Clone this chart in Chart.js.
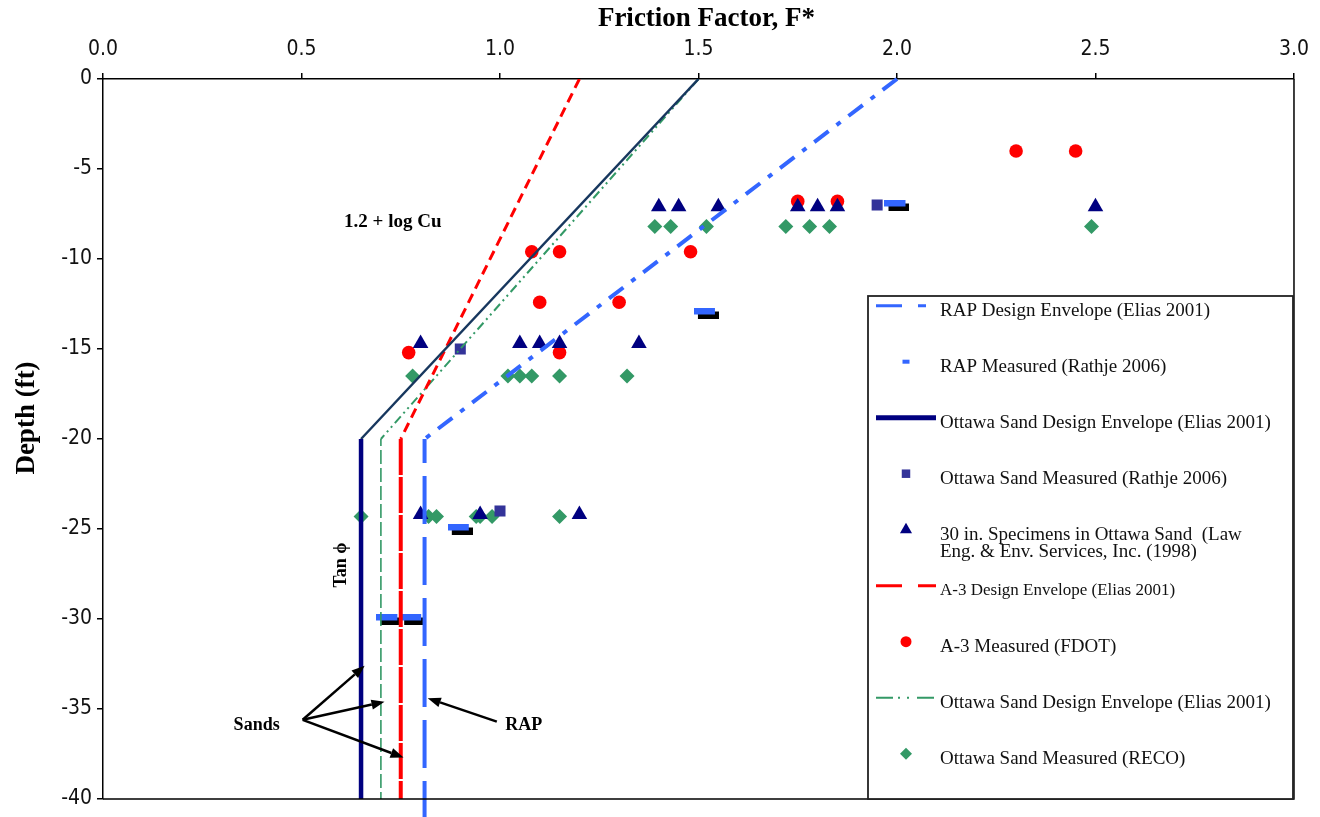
<!DOCTYPE html>
<html>
<head>
<meta charset="utf-8">
<title>Friction Factor vs Depth</title>
<script src="https://cdn.jsdelivr.net/npm/chart.js@4.4.1/dist/chart.umd.min.js"></script>
<style>
  html, body { margin: 0; padding: 0; background: #fff; }
  #wrap { width: 1320px; height: 817px; position: relative; }
</style>
</head>
<body>
<div id="wrap"><canvas id="chart" width="1320" height="817"></canvas></div>
<script>
// ---- axis ticks ----
const xTickValues = [0, 0.5, 1.0, 1.5, 2.0, 2.5, 3.0];
const yTickValues = [0, -5, -10, -15, -20, -25, -30, -35, -40];

// ---- design envelopes: friction factor F* and depth (ft) ----
const rapEnvF = [2.0, 0.81, 0.81];
const rapEnvDepth = [0, -20, -41];
const ottawaEnvF = [1.5, 0.65, 0.65];
const ottawaEnvDepth = [0, -20, -40];
const a3EnvF = [1.2, 0.75, 0.75];
const a3EnvDepth = [0, -20, -40];
const ottawaRecoEnvF = [1.5, 0.70, 0.70];
const ottawaRecoEnvDepth = [0, -20, -40];

// ---- measured values ----
const rapMeasF = [2.0, 1.52, 0.90, 0.72, 0.78];
const rapMeasDepth = [-7, -13, -25, -30, -30];

const ottawaRathjeF = [1.95, 0.90, 1.00];
const ottawaRathjeDepth = [-7, -15, -24];

const lawF = [1.40, 1.45, 1.55, 1.75, 1.80, 1.85, 2.50, 0.80, 1.05, 1.10, 1.15, 1.35, 0.80, 0.95, 1.20];
const lawDepth = [-7.1, -7.1, -7.1, -7.1, -7.1, -7.1, -7.1, -14.7, -14.7, -14.7, -14.7, -14.7, -24.2, -24.2, -24.2];

const fdotF = [2.30, 2.45, 1.75, 1.85, 1.08, 1.15, 1.48, 1.10, 1.30, 0.77, 1.15];
const fdotDepth = [-4, -4, -6.8, -6.8, -9.6, -9.6, -9.6, -12.4, -12.4, -15.2, -15.2];

const recoF = [1.39, 1.43, 1.52, 1.72, 1.78, 1.83, 2.49, 0.78, 1.02, 1.05, 1.08, 1.15, 1.32, 0.65, 0.82, 0.84, 0.94, 0.95, 0.98, 1.15];
const recoDepth = [-8.2, -8.2, -8.2, -8.2, -8.2, -8.2, -8.2, -16.5, -16.5, -16.5, -16.5, -16.5, -16.5, -24.3, -24.3, -24.3, -24.3, -24.3, -24.3, -24.3];

// ---- annotations (placed in data units) ----
const noteTexts = ['1.2 + log Cu', 'Sands', 'RAP'];
const noteF = [0.73, 0.387, 1.06];
const noteDepth = [-7.95, -35.9, -35.9];
const tanText = 'Tan \u03D5';
const tanPos = [0.60, -27];
const sandsArrowTail = [0.503, -35.6];
const sandsArrowTips = [[0.659, -32.6], [0.709, -34.6], [0.757, -37.7]];
const rapArrowTail = [0.992, -35.7];
const rapArrowTip = [0.818, -34.4];

const pts = (xs, ys) => xs.map((v, i) => ({ x: v, y: ys[i] }));

// RAP measured marker: blue dash with a dark drop shadow
const rapMarker = (() => {
  const c = document.createElement('canvas');
  c.width = 25; c.height = 11;
  const g = c.getContext('2d');
  g.fillStyle = '#000';
  g.fillRect(4, 4, 21, 7);
  g.fillStyle = '#3366FF';
  g.fillRect(0, 0, 21, 7);
  return c;
})();

const seg = (slope, vertical) => ({
  borderDash: ctx => ctx.p0DataIndex === 0 ? slope.dash : vertical.dash,
  borderWidth: ctx => ctx.p0DataIndex === 0 ? slope.width : vertical.width,
  borderColor: ctx => ctx.p0DataIndex === 0 ? slope.color : vertical.color
});

const datasets = [
  {
    label: 'RAP Design Envelope (Elias 2001)',
    data: pts(rapEnvF, rapEnvDepth),
    showLine: true, pointRadius: 0, borderColor: '#3366FF', borderWidth: 4,
    segment: seg({ dash: [18, 10, 5, 10], width: 4, color: '#3366FF' }, { dash: [24, 16, 6, 15], width: 4, color: '#3366FF' }),
    clip: false, order: 0,
    legendKind: 'line', legendDash: [26, 16, 8, 60], legendWidth: 3
  },
  {
    label: 'RAP Measured (Rathje 2006)',
    data: pts(rapMeasF, rapMeasDepth),
    showLine: false, pointStyle: rapMarker, pointRadius: 6, order: 1,
    legendKind: 'dash', color: '#3366FF'
  },
  {
    label: 'Ottawa Sand Design Envelope (Elias 2001)',
    data: pts(ottawaEnvF, ottawaEnvDepth),
    showLine: true, pointRadius: 0, borderColor: '#000080', borderWidth: 4,
    segment: seg({ dash: [], width: 2.5, color: '#17375e' }, { dash: [], width: 4.5, color: '#000080' }),
    order: 0,
    legendKind: 'line', legendDash: [], legendWidth: 5
  },
  {
    label: 'Ottawa Sand Measured (Rathje 2006)',
    data: pts(ottawaRathjeF, ottawaRathjeDepth),
    showLine: false, pointStyle: 'rect', pointRadius: 7.8, pointBorderWidth: 0,
    backgroundColor: '#333399', borderColor: '#333399', order: 1,
    legendKind: 'point', legendRadius: 6
  },
  {
    label: '30 in. Specimens in Ottawa Sand  (Law\nEng. & Env. Services, Inc. (1998)',
    data: pts(lawF, lawDepth),
    showLine: false, pointStyle: 'triangle', pointRadius: 9, pointBorderWidth: 0,
    backgroundColor: '#000080', borderColor: '#000080', order: 1,
    legendKind: 'point', legendRadius: 7
  },
  {
    label: 'A-3 Design Envelope (Elias 2001)',
    data: pts(a3EnvF, a3EnvDepth),
    showLine: true, pointRadius: 0, borderColor: '#FF0000', borderWidth: 4,
    segment: seg({ dash: [10, 6], width: 3, color: '#FF0000' }, { dash: [26, 12], width: 4, color: '#FF0000' }),
    order: 0,
    legendKind: 'line', legendDash: [26, 16], legendWidth: 3, legendFontSize: 17
  },
  {
    label: 'A-3 Measured (FDOT)',
    data: pts(fdotF, fdotDepth),
    showLine: false, pointStyle: 'circle', pointRadius: 6.8, pointBorderWidth: 0,
    backgroundColor: '#FF0000', borderColor: '#FF0000', order: 1,
    legendKind: 'point', legendRadius: 5.5
  },
  {
    label: 'Ottawa Sand Design Envelope (Elias 2001)',
    data: pts(ottawaRecoEnvF, ottawaRecoEnvDepth),
    showLine: true, pointRadius: 0, borderColor: '#339966', borderWidth: 1.8,
    segment: seg({ dash: [9, 4, 2, 4, 2, 4], width: 2, color: '#339966' }, { dash: [6, 5, 2, 5], width: 1.6, color: '#339966' }),
    order: 0,
    legendKind: 'line', legendDash: [17, 5, 2, 7, 2, 8, 17], legendWidth: 2
  },
  {
    label: 'Ottawa Sand Measured (RECO)',
    data: pts(recoF, recoDepth),
    showLine: false, pointStyle: 'rectRot', pointRadius: 7.5, pointBorderWidth: 0,
    backgroundColor: '#339966', borderColor: '#339966', order: 1,
    legendKind: 'point', legendRadius: 6
  }
];

const SERIF = '"Liberation Serif", "Times New Roman", "DejaVu Serif", serif';
const TICKFONT = '"Liberation Sans Narrow", "DejaVu Sans Condensed", "Liberation Sans", sans-serif';

function arrow(ctx, x0, y0, x1, y1) {
  const a = Math.atan2(y1 - y0, x1 - x0);
  const head = 13, half = 5;
  const bx = x1 - head * Math.cos(a), by = y1 - head * Math.sin(a);
  ctx.beginPath();
  ctx.moveTo(x0, y0);
  ctx.lineTo(bx, by);
  ctx.stroke();
  ctx.beginPath();
  ctx.moveTo(x1, y1);
  ctx.lineTo(bx + half * Math.sin(a), by - half * Math.cos(a));
  ctx.lineTo(bx - half * Math.sin(a), by + half * Math.cos(a));
  ctx.closePath();
  ctx.fill();
}

const decorations = {
  id: 'decorations',
  afterDatasetsDraw(chart) {
    const { ctx, chartArea: a, scales: { x, y } } = chart;
    ctx.save();
    // right and bottom frame lines
    ctx.strokeStyle = '#000';
    ctx.lineWidth = 1.5;
    ctx.beginPath();
    ctx.moveTo(a.right, a.top);
    ctx.lineTo(a.right, a.bottom);
    ctx.lineTo(a.left, a.bottom);
    ctx.stroke();

    // text notes
    ctx.fillStyle = '#000';
    ctx.textAlign = 'center';
    ctx.textBaseline = 'middle';
    noteTexts.forEach((t, i) => {
      ctx.font = 'bold ' + (i === 0 ? 19 : 18) + 'px ' + SERIF;
      ctx.fillText(t, x.getPixelForValue(noteF[i]), y.getPixelForValue(noteDepth[i]));
    });
    ctx.save();
    ctx.translate(x.getPixelForValue(tanPos[0]), y.getPixelForValue(tanPos[1]));
    ctx.rotate(-Math.PI / 2);
    ctx.font = 'bold 18px ' + SERIF;
    ctx.fillText(tanText, 0, 0);
    ctx.restore();

    // arrows
    ctx.strokeStyle = '#000';
    ctx.fillStyle = '#000';
    ctx.lineWidth = 2.5;
    const px = p => [x.getPixelForValue(p[0]), y.getPixelForValue(p[1])];
    const st = px(sandsArrowTail);
    sandsArrowTips.forEach(tp => { const e = px(tp); arrow(ctx, st[0], st[1], e[0], e[1]); });
    const rt = px(rapArrowTail), re = px(rapArrowTip);
    arrow(ctx, rt[0], rt[1], re[0], re[1]);
    ctx.restore();
  },
  afterDraw(chart) {
    const { ctx, chartArea: a } = chart;
    ctx.save();
    // axis titles
    ctx.fillStyle = '#000';
    ctx.textAlign = 'center';
    ctx.textBaseline = 'middle';
    ctx.font = 'bold 27px ' + SERIF;
    ctx.fillText('Friction Factor, F*', (a.left + a.right) / 2 + 8, 19);
    ctx.save();
    ctx.translate(27, 418);
    ctx.rotate(-Math.PI / 2);
    ctx.fillText('Depth (ft)', 0, 0);
    ctx.restore();

    // legend box
    const box = { left: 868, top: 296, right: a.right - 1, bottom: a.bottom };
    ctx.fillStyle = '#fff';
    ctx.fillRect(box.left, box.top, box.right - box.left, box.bottom - box.top);
    ctx.strokeStyle = '#222';
    ctx.lineWidth = 1.8;
    ctx.strokeRect(box.left, box.top, box.right - box.left, box.bottom - box.top);

    const sx0 = box.left + 8, sx1 = box.left + 68, smid = box.left + 38, tx = box.left + 72;
    chart.data.datasets.forEach((ds, i) => {
      const ty = box.top + 14.7 + i * 56;
      const sy = ty - 5;
      ctx.save();
      if (ds.legendKind === 'line') {
        ctx.strokeStyle = ds.borderColor;
        ctx.lineWidth = ds.legendWidth;
        ctx.setLineDash(ds.legendDash);
        ctx.beginPath();
        ctx.moveTo(sx0, sy);
        ctx.lineTo(sx1, sy);
        ctx.stroke();
      } else if (ds.legendKind === 'dash') {
        ctx.fillStyle = ds.color;
        ctx.fillRect(smid - 3.5, sy - 2, 7, 4);
      } else {
        ctx.fillStyle = ds.backgroundColor;
        const r = ds.legendRadius;
        ctx.beginPath();
        if (ds.pointStyle === 'circle') {
          ctx.arc(smid, sy, r, 0, Math.PI * 2);
        } else if (ds.pointStyle === 'rect') {
          const h = r * Math.SQRT1_2;
          ctx.rect(smid - h, sy - h, 2 * h, 2 * h);
        } else if (ds.pointStyle === 'triangle') {
          ctx.moveTo(smid, sy - r);
          ctx.lineTo(smid + r * 0.866, sy + r * 0.5);
          ctx.lineTo(smid - r * 0.866, sy + r * 0.5);
          ctx.closePath();
        } else if (ds.pointStyle === 'rectRot') {
          ctx.moveTo(smid, sy - r);
          ctx.lineTo(smid + r, sy);
          ctx.lineTo(smid, sy + r);
          ctx.lineTo(smid - r, sy);
          ctx.closePath();
        }
        ctx.fill();
      }
      ctx.restore();
      ctx.fillStyle = '#111';
      ctx.textAlign = 'left';
      ctx.textBaseline = 'middle';
      ctx.font = (ds.legendFontSize || 19) + 'px ' + SERIF;
      ds.label.split('\n').forEach((line, k) => {
        ctx.fillText(line, tx, ty + k * 17);
      });
    });
    ctx.restore();
  }
};

new Chart(document.getElementById('chart'), {
  type: 'scatter',
  data: { datasets },
  options: {
    responsive: false,
    animation: false,
    events: [],
    layout: { padding: { left: 0, top: 0, right: 25, bottom: 18 } },
    plugins: { legend: { display: false }, tooltip: { enabled: false } },
    scales: {
      x: {
        type: 'linear',
        position: 'top',
        min: 0, max: 3,
        afterFit: s => { s.height = 79; },
        afterBuildTicks: s => { s.ticks = xTickValues.map(v => ({ value: v })); },
        grid: { drawOnChartArea: false, drawTicks: true, tickLength: 6, color: '#000', lineWidth: 1.5 },
        border: { display: true, color: '#000', width: 1.5 },
        ticks: {
          padding: 11, maxRotation: 0, autoSkip: false, color: '#111',
          font: { family: TICKFONT, size: 21 },
          callback: v => v.toFixed(1)
        }
      },
      y: {
        type: 'linear',
        min: -40, max: 0,
        afterFit: s => { s.width = 103; },
        afterBuildTicks: s => { s.ticks = yTickValues.map(v => ({ value: v })); },
        grid: { drawOnChartArea: false, drawTicks: true, tickLength: 6, color: '#000', lineWidth: 1.5 },
        border: { display: true, color: '#000', width: 1.5 },
        ticks: {
          padding: 5, autoSkip: false, color: '#111',
          font: { family: TICKFONT, size: 21 },
          callback: v => String(v)
        }
      }
    }
  },
  plugins: [decorations]
});
</script>
</body>
</html>
